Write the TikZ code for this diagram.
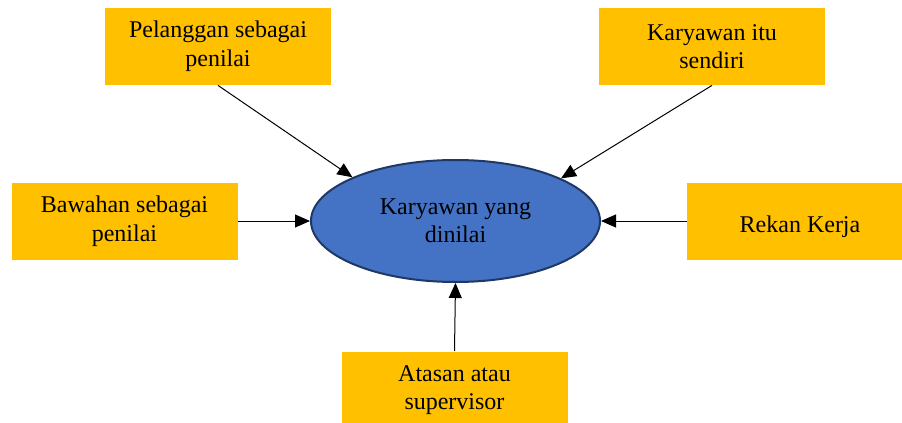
\documentclass[tikz,border=0pt]{standalone}
\usepackage{fontspec}
\setmainfont{Liberation Serif}
\usetikzlibrary{arrows.meta,shapes.geometric}
\definecolor{kotak}{HTML}{FFC000}
\definecolor{elips}{HTML}{4472C4}
\definecolor{garis}{HTML}{203864}
\begin{document}
\begin{tikzpicture}[x=0.5pt,y=-0.5pt,
  kotak/.style={fill=kotak, minimum width=113pt, minimum height=38.5pt, align=center, inner sep=0pt, font=\fontsize{12}{14.3}\selectfont, execute at begin node={\rule{0pt}{14.2pt}}},
  pusat/.style={ellipse, draw=garis, line width=1pt, fill=elips, minimum width=144.5pt, minimum height=61pt, inner sep=0pt, align=center, font=\fontsize{12}{14}\selectfont},
  panah/.style={-{Triangle[length=7.5pt,width=6.5pt]}, line width=0.5pt}]
\useasboundingbox (0,0) rectangle (902,423);
%\draw [lightgray](0,0) grid (902,423);
\node [pusat] (kar) at (455.5,221){Karyawan yang\\dinilai};

\node [kotak] (pel) at (218,46.5){Pelanggan sebagai\\penilai};
\node [kotak] (sen) at (712,46.5){Karyawan itu\\sendiri};
\node [kotak] (baw) at (124.5,221){Bawahan sebagai\\penilai};
\node [kotak] (rek) at (800,221){Rekan Kerja};
\node [kotak] (ats) at (454.5,390){Atasan atau\\supervisor};

\draw [panah] (pel.south) -- (kar.157);
\draw [panah] (sen.south) -- (kar.22);
\draw [panah] (baw.east) -- (kar.west);
\draw [panah] (rek.west) -- (kar.east);
\draw [panah] (ats.north) -- (kar.south);
\end{tikzpicture}
\end{document}
